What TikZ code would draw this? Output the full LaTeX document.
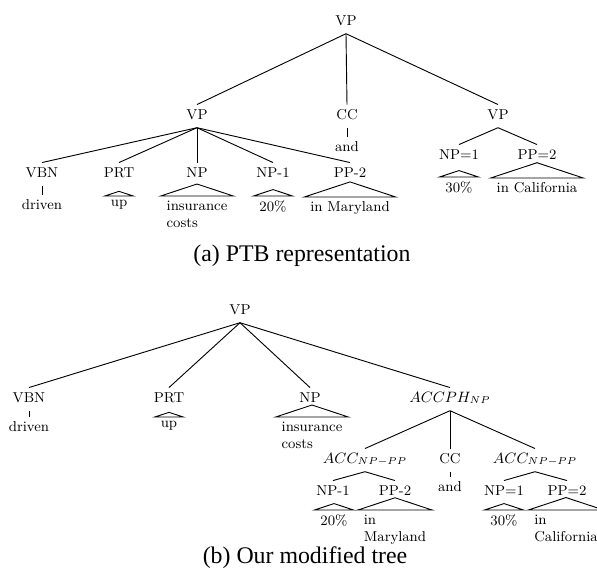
\documentclass[tikz,border=0pt]{standalone}
\usepackage{fontspec}
\newfontfamily\capfont{Liberation Serif}
\usetikzlibrary{calc}

\tikzstyle{cat}  = [font=\fontsize{8.6}{10}\selectfont, inner sep=1.5pt, text height=1.6ex, text depth=.8ex, anchor=base]
\tikzstyle{word} = [font=\fontsize{8.6}{10.6}\selectfont, inner xsep=3.3pt, inner ysep=2.5pt, minimum width=16pt, anchor=north, align=left]
\tikzstyle{capt} = [font=\capfont\fontsize{14.3}{17}\selectfont]

\begin{document}
\begin{tikzpicture}[x=0.6pt, y=-0.6pt, line width=0.55pt]
  \useasboundingbox (0,0) rectangle (597,578);

  % (a) PTB tree
  \node[cat] (vpA)  at (346, 25) {VP};
  \node[cat] (vpL)  at (197,119) {VP};
  \node[cat] (ccA)  at (347,119) {CC};
  \node[cat] (vpR)  at (498,119) {VP};
  \node[cat] (vbnA) at ( 42,177) {VBN};
  \node[cat] (prtA) at (119,177) {PRT};
  \node[cat] (npA)  at (197,177) {NP};
  \node[cat] (npoA) at (273,177) {NP-1};
  \node[cat] (pptA) at (350,177) {PP-2};
  \node[cat] (npeA) at (459,159) {NP=1};
  \node[cat] (ppeA) at (537,159) {PP=2};

  \node[word] (drivenA) at ( 42,195) {driven};
  \node[word] (andA)    at (347,137) {and};
  \node[word] (upA)     at (119,196) {up};
  \node[word] (insA)    at (197,196) {insurance\\costs};
  \node[word] (twentyA) at (273,196) {20\%};
  \node[word] (maryA)   at (350,197) {in Maryland};
  \node[word] (thirtyA) at (459,177) {30\%};
  \node[word] (calA)    at (537,178) {in California};

  \node[capt] (capA) at (302,256) {(a) PTB representation};

  % (b) modified tree
  \node[cat] (vpB)   at (240,314) {VP};
  \node[cat] (vbnB)  at ( 29,402) {VBN};
  \node[cat] (prtB)  at (169,402) {PRT};
  \node[cat] (npB)   at (310,402) {NP};
  \node[cat] (accph) at (450,402) {$ACCPH_{NP}$};
  \node[cat] (accL)  at (365,463) {$ACC_{NP-PP}$};
  \node[cat] (ccB)   at (450,463) {CC};
  \node[cat] (accR)  at (535,463) {$ACC_{NP-PP}$};
  \node[cat] (npoB)  at (333,495) {NP-1};
  \node[cat] (pptB)  at (395,495) {PP-2};
  \node[cat] (npeB)  at (504,495) {NP=1};
  \node[cat] (ppeB)  at (567,495) {PP=2};

  \node[word] (drivenB) at ( 29,417) {driven};
  \node[word] (upB)     at (169,417) {up};
  \node[word] (insB)    at (312,417) {insurance\\costs};
  \node[word] (andB)    at (450,477) {and};
  \node[word] (twentyB) at (334,510) {20\%};
  \node[word] (maryB)   at (395,510) {in\\Maryland};
  \node[word] (thirtyB) at (504,510) {30\%};
  \node[word] (calB)    at (566,510) {in\\California};

  \node[capt] (capB) at (305,558) {(b) Our modified tree};

  % branches
  \foreach \a/\b in {vpA/vpL, vpA/ccA, vpA/vpR, vpL/vbnA, vpL/prtA, vpL/npA, vpL/npoA, vpL/pptA,
                     vpR/npeA, vpR/ppeA, vbnA/drivenA, ccA/andA,
                     vpB/vbnB, vpB/prtB, vpB/npB, vpB/accph, accph/accL, accph/ccB, accph/accR,
                     accL/npoB, accL/pptB, accR/npeB, accR/ppeB, vbnB/drivenB, ccB/andB}
    \draw (\a.south) -- (\b.north);

  % roofs
  \foreach \w in {upA, insA, twentyA, maryA, thirtyA, calA, upB, insB, twentyB, maryB, thirtyB, calB}
    \draw ($(\w.north)!0.33!90:(\w.north east)$) -- (\w.north west) -- (\w.north east) -- cycle;
\end{tikzpicture}
\end{document}
